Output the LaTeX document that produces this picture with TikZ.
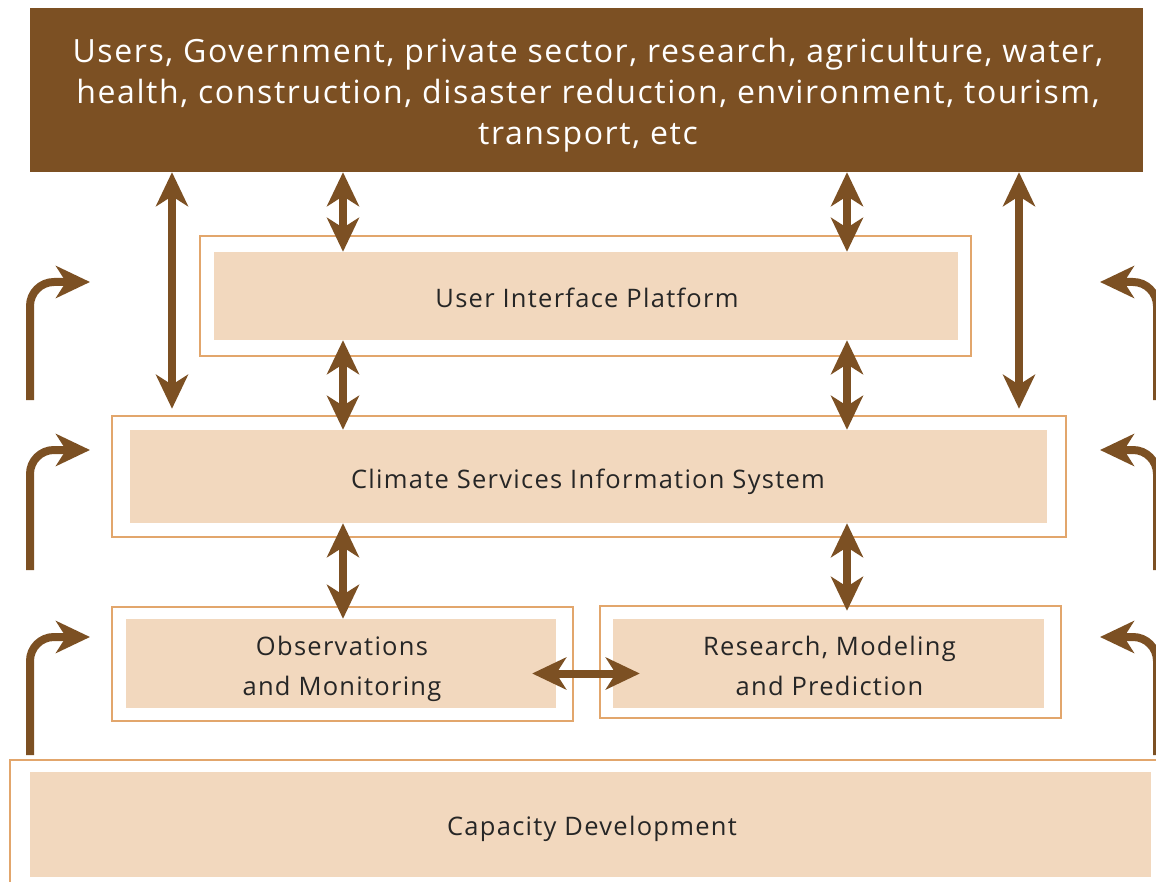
\documentclass[tikz,border=0pt]{standalone}
\usepackage{fontspec}
\setmainfont[LetterSpace=5]{Open Sans}
\usetikzlibrary{arrows.meta, positioning, calc}
\definecolor{gcbrown}{RGB}{124,80,35}
\definecolor{gcsand}{RGB}{242,216,190}
\definecolor{gcedge}{RGB}{226,166,108}
\tikzstyle{frame} = [draw=gcedge, line width=2.5pt, fill=white, inner sep=0pt]
\tikzstyle{panel} = [fill=gcsand, inner sep=0pt]
\tikzstyle{caption} = [inner sep=0pt, text=black!85, align=center, font=\fontsize{25.5}{40}\selectfont]
\tikzstyle{biarrow} = [gcbrown, line width=8pt, {Stealth[length=34pt,width=32pt,inset=10pt]}-{Stealth[length=34pt,width=32pt,inset=10pt]}]
\tikzstyle{turnarrow} = [gcbrown, line width=8pt, rounded corners=24pt, -{Stealth[length=34pt,width=32pt,inset=10pt]}]

\begin{document}
\begin{tikzpicture}[x=1pt, y=-1pt]
        \clip (0,0) rectangle (1156,882);

        % Users
        \node[fill=gcbrown, minimum width=1113pt, minimum height=164pt] (users) at (586.5,90) {};
        \node[caption, text=white, font=\fontsize{32}{41}\selectfont] (userstext) at (588,95)
              {Users, Government, private sector, research, agriculture, water,\\
               health, construction, disaster reduction, environment, tourism,\\
               transport, etc};

        % Frames
        \node[frame, minimum width=771pt, minimum height=120pt] (uipframe) at (585.5,296) {};
        \node[frame, minimum width=954pt, minimum height=121pt] (csisframe) at (589,476.5) {};
        \node[frame, minimum width=461pt, minimum height=114pt] (obsframe) at (342.5,664) {};
        \node[frame, minimum width=461pt, minimum height=112pt] (resframe) at (830.5,662) {};
        \node[frame, minimum width=1160pt, minimum height=140pt] (capframe) at (590,830) {};

        % Panels
        \node[panel, minimum width=744pt, minimum height=88pt] (uip) at (586,296) {};
        \node[panel, minimum width=917pt, minimum height=93pt] (csis) at (588.5,476.5) {};
        \node[panel, minimum width=430pt, minimum height=89pt] (obs) at (341,663.5) {};
        \node[panel, minimum width=431pt, minimum height=89pt] (res) at (828.5,663.5) {};
        \node[panel, minimum width=1121pt, minimum height=105pt] (cap) at (590.5,824.5) {};

        % Captions
        \node[caption] (uiptext) at (587,298) {User Interface Platform};
        \node[caption] (csistext) at (588,482) {Climate Services Information System};
        \node[caption] (obstext) at (342,668.5) {Observations\\and Monitoring};
        \node[caption] (restext) at (829.5,665.5) {Research, Modeling\\and Prediction};
        \node[caption] (captext) at (592,828.5) {Capacity Development};

        % Columns for the links
        \coordinate (colA) at (172,0);
        \coordinate (colB) at (343,0);
        \coordinate (colC) at (847,0);
        \coordinate (colD) at (1019,0);

        % Links
        \draw[biarrow] (users.south -| colA) -- ([yshift=6pt]csisframe.north -| colA);
        \draw[biarrow] (users.south -| colD) -- ([yshift=6pt]csisframe.north -| colD);
        \foreach \col in {colB,colC}{
          \draw[biarrow] (users.south -| \col) -- (uip.north -| \col);
          \draw[biarrow] (uip.south -| \col) -- (csis.north -| \col);
        }
        \draw[biarrow] (csis.south -| colB) -- (obs.north -| colB);
        \draw[biarrow] (csis.south -| colC) -- ([yshift=8pt]res.north -| colC);
        \draw[biarrow] ([shift={(-24,10)}]obs.east) -- ([shift={(27,10)}]res.west);

        % Side arrows
        \foreach \t/\b in {282/400, 450/570, 637/755}{
          \draw[turnarrow] (30,\b) |- (90,\t);
          \draw[turnarrow] (1157,\b) |- (1100,\t);
        }
\end{tikzpicture}
\end{document}
